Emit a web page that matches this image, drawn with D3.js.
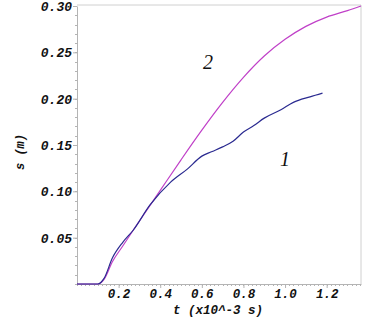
<!DOCTYPE html>
<html><head><meta charset="utf-8">
<script src="https://cdn.jsdelivr.net/npm/d3@7"></script>
<style>
body{margin:0;background:#fff;}
svg text.tk{font-family:"Liberation Mono","DejaVu Sans Mono",monospace;font-weight:bold;font-style:italic;}
</style></head><body>
<svg id="c" width="381" height="317"></svg>
<script>
const t2 = [0, 0.10, 0.13, 0.17, 0.22, 0.27, 0.30, 0.40, 0.50, 0.60, 0.70, 0.80, 0.90, 1.00, 1.10, 1.20, 1.30, 1.365];
const s2 = [0, 0, 0.005, 0.024, 0.041, 0.058, 0.068, 0.101, 0.134, 0.166, 0.196, 0.223, 0.246, 0.264, 0.278, 0.288, 0.295, 0.300];
const t1 = [0, 0.10, 0.13, 0.17, 0.22, 0.27, 0.35, 0.45, 0.53, 0.60, 0.65, 0.70, 0.75, 0.80, 0.85, 0.90, 0.98, 1.04, 1.12, 1.18];
const s1 = [0, 0, 0.006, 0.028, 0.045, 0.058, 0.085, 0.110, 0.124, 0.138, 0.143, 0.148, 0.154, 0.164, 0.171, 0.179, 0.188, 0.196, 0.202, 0.206];
const xTicks = [0.2, 0.4, 0.6, 0.8, 1.0, 1.2];
const yTicks = [0.05, 0.10, 0.15, 0.20, 0.25, 0.30];
const xLabel = "t (x10^-3 s)";
const yLabel = "s (m)";
const curveLabels = ["1", "2"];
const labelPos = [[1.0, 0.127], [0.63, 0.232]];

const svg = d3.select("#c");
const L = 77, R = 361, T = 6, B = 284;
const x = d3.scaleLinear().domain([0, 1.365]).range([L, R]);
const y = d3.scaleLinear().domain([0, 0.30]).range([B, T]);
const gray = "#b4b4b4";

// frame
svg.append("path").attr("d", `M${L},${T-1}H${R}V${B}`).attr("fill","none").attr("stroke","#d0d0d0");

// minor ticks
const yMinor = d3.range(0, 0.301, 0.01);
svg.append("g").selectAll("line").data(yMinor).join("line")
  .attr("x1", L-2).attr("x2", L).attr("y1", d=>Math.round(y(d))+0.5).attr("y2", d=>Math.round(y(d))+0.5)
  .attr("stroke", gray);
const xMinor = d3.range(0, 1.365, 0.02);
svg.append("g").selectAll("line").data(xMinor).join("line")
  .attr("y1", B).attr("y2", B+2).attr("x1", d=>Math.round(x(d))+0.5).attr("x2", d=>Math.round(x(d))+0.5)
  .attr("stroke", gray);

const ya = svg.append("g").attr("transform", `translate(${L},0)`)
  .call(d3.axisLeft(y).tickValues(yTicks).tickFormat(d3.format(".2f")).tickSize(4).tickSizeOuter(0));
const xa = svg.append("g").attr("transform", `translate(0,${B})`)
  .call(d3.axisBottom(x).tickValues(xTicks).tickFormat(d3.format(".1f")).tickSize(4).tickSizeOuter(0));
[ya, xa].forEach(g => {
  g.select(".domain").attr("stroke", gray);
  g.selectAll(".tick line").attr("stroke", gray);
  g.selectAll("text").attr("class","tk").attr("font-size", 13).attr("fill","#111");
});
ya.selectAll("text").attr("x", -5).attr("dy", "0.35em");
xa.selectAll("text").attr("y", 5).attr("font-size", 12.5);

svg.append("text").attr("class","tk").attr("x", 218).attr("y", 314).attr("text-anchor","middle")
  .attr("font-size", 12.5).attr("fill","#111").text(xLabel);
svg.append("text").attr("class","tk").attr("transform","translate(24,152) rotate(-90)").attr("text-anchor","middle")
  .attr("font-size", 12).attr("fill","#111").text(yLabel);

const line = d3.line().x(d=>x(d[0])).y(d=>y(d[1])).curve(d3.curveMonotoneX);
svg.append("path").datum(t2.map((t,i)=>[t,s2[i]])).attr("d", line).attr("fill","none").attr("stroke","#c040c8").attr("stroke-width",1.2);
svg.append("path").datum(t1.map((t,i)=>[t,s1[i]])).attr("d", line).attr("fill","none").attr("stroke","#2a2a90").attr("stroke-width",1.2);

svg.selectAll("text.cl").data(curveLabels).join("text").attr("class","cl")
  .attr("x", (d,i)=>x(labelPos[i][0])).attr("y", (d,i)=>y(labelPos[i][1]))
  .attr("font-family","Liberation Serif, serif").attr("font-style","italic").attr("font-size", 20)
  .attr("text-anchor","middle").attr("fill","#111").text(d=>d);
</script></body></html>
